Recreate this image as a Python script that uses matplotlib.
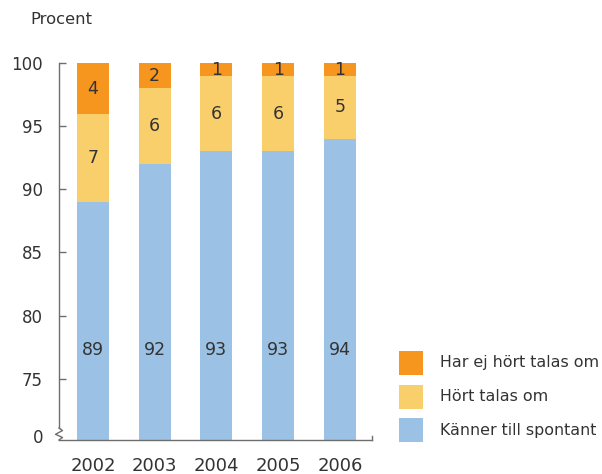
import matplotlib
matplotlib.use('Agg')
import matplotlib.pyplot as plt
from matplotlib.patches import Rectangle

plt.rcParams['font.family'] = ['DejaVu Sans']

years = ['2002', '2003', '2004', '2005', '2006']
kanner = [89, 92, 93, 93, 94]
hort = [7, 6, 6, 6, 5]
har_ej = [4, 2, 1, 1, 1]
legend_labels = ['Har ej hört talas om', 'Hört talas om', 'Känner till spontant']

c_blue = '#9bc2e4'
c_yellow = '#f9cf6b'
c_orange = '#f7961f'
txt = '#333333'
axis_col = '#6e6e6e'

ymin = 70.15

fig = plt.figure(figsize=(6.02, 4.74), dpi=100)
ax = fig.add_axes([59/602, 1-440/474, 313/602, 377/474])

x = list(range(len(years)))
w = 0.52
ax.bar(x, kanner, w, color=c_blue)
ax.bar(x, hort, w, bottom=kanner, color=c_yellow)
bottoms3 = [a + b for a, b in zip(kanner, hort)]
ax.bar(x, har_ej, w, bottom=bottoms3, color=c_orange)

for i in x:
    ax.text(i, 77.3, str(kanner[i]), ha='center', va='center', fontsize=12.5, color=txt)
    ax.text(i, kanner[i] + hort[i] / 2, str(hort[i]), ha='center', va='center', fontsize=12.5, color=txt)
    ax.text(i, bottoms3[i] + har_ej[i] / 2 - 0.05, str(har_ej[i]), ha='center', va='center',
            fontsize=12.5, color=txt)

ax.set_xlim(-0.55, 4.52)
ax.set_ylim(ymin, 100)
ax.set_yticks([75, 80, 85, 90, 95, 100])
ax.set_xticks(x)
ax.set_xticklabels(years)
ax.tick_params(axis='y', direction='in', length=5, width=1, color=axis_col,
               labelsize=12, labelcolor=txt, pad=11.5)
ax.tick_params(axis='x', length=0, labelsize=13, labelcolor=txt, pad=12)

for s in ['top', 'right']:
    ax.spines[s].set_visible(False)
for s in ['left', 'bottom']:
    ax.spines[s].set_color(axis_col)
    ax.spines[s].set_linewidth(1)
ax.spines['left'].set_bounds(71.1, 100)

# axis break squiggle
tr = ax.get_yaxis_transform()
dx = 3.5 / 313
ax.plot([0, dx, -dx, dx, 0], [71.1, 70.9, 70.6, 70.35, ymin],
        transform=tr, color=axis_col, lw=1, clip_on=False)
ax.text(-16 / 313, ymin + 0.15, '0', transform=tr, ha='right', va='center',
        fontsize=12, color=txt)
# small end tick on bottom axis
ax.plot([1, 1], [ymin, ymin + 0.3], transform=tr, color=axis_col, lw=1, clip_on=False)

fig.text(30/602, 1-20/474, 'Procent', ha='left', va='center', fontsize=11.8, color=txt)

# legend drawn by hand, top to bottom
colors = [c_orange, c_yellow, c_blue]
for k, (lab, col) in enumerate(zip(legend_labels, colors)):
    yc = 363 + k * 33.5
    fig.add_artist(Rectangle((399/602, 1-(yc + 12)/474), 24/602, 24/474,
                             transform=fig.transFigure, color=col, lw=0))
    fig.text(440/602, 1-yc/474, lab, ha='left', va='center', fontsize=11.4, color=txt)

fig.savefig('out.png', dpi=100)
